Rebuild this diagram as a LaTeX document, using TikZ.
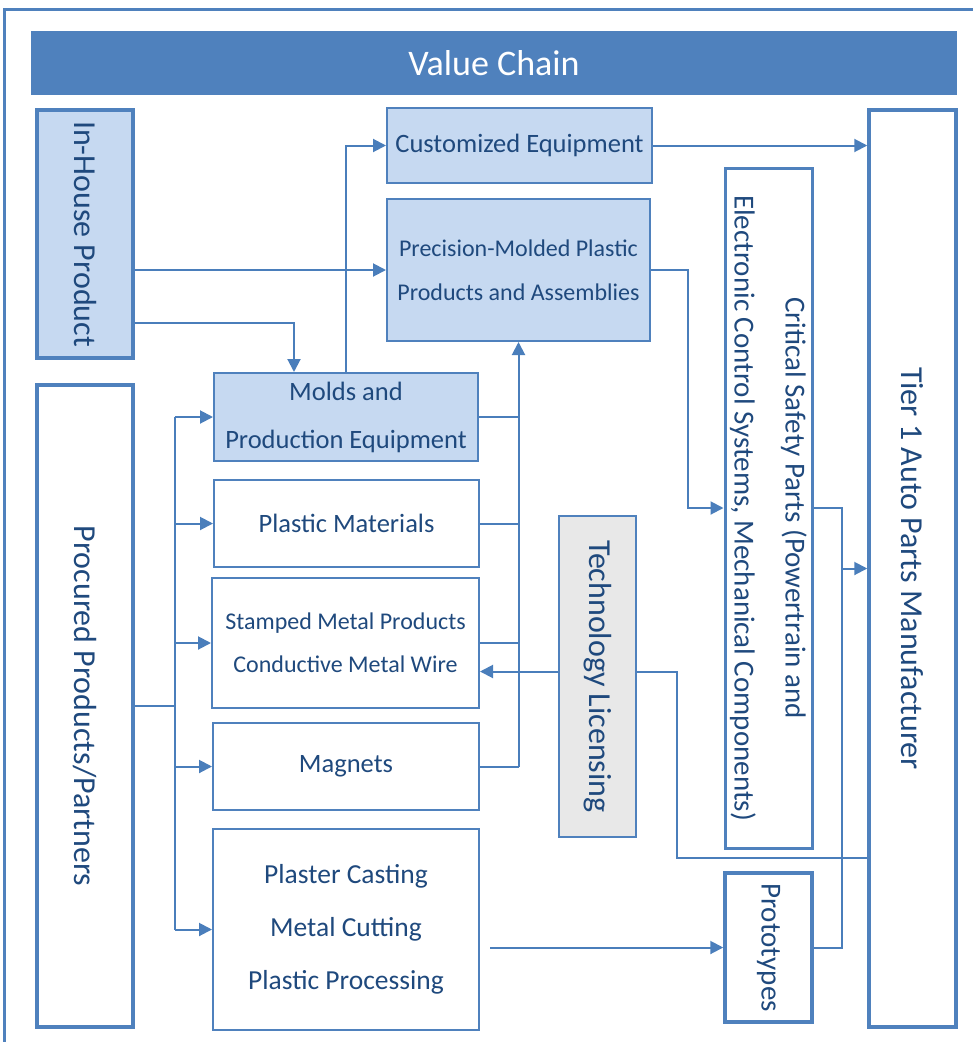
\documentclass[tikz,border=0pt]{standalone}
\usepackage{fontspec}
\setmainfont{Carlito}
\usetikzlibrary{arrows.meta, positioning}

\definecolor{vcblue}{HTML}{4F81BD}
\definecolor{vcline}{HTML}{4A7EBB}
\definecolor{vcfill}{HTML}{C6D9F1}
\definecolor{vcgray}{HTML}{E8E8E8}
\definecolor{vctext}{HTML}{1F497D}

\begin{document}
\begin{tikzpicture}
    [
        x=1pt, y=-1pt,
        block/.style = {
                draw=vcblue,
                rectangle,
                line width=2pt,
                inner sep=0pt,
                text=vctext,
                align=center,
                font=\fontsize{26.5}{32}\selectfont
            },
        heavy/.style = {block, line width=3.5pt},
        shaded/.style = {fill=vcfill},
        vtext/.style = {
                rotate=-90,
                text=vctext,
                align=center,
                font=\fontsize{32}{38}\selectfont
            },
        link/.style = {draw=vcline, line width=2pt},
        arr/.style = {link, -{Triangle[length=13pt, width=13pt]}},
    ]

    \useasboundingbox (0,0) rectangle (973,1042);
    \draw[vcblue, line width=3pt] (4,9) rectangle (1000,1080);

    \node[fill=vcblue, minimum width=926pt, minimum height=64pt, text=white,
        font=\fontsize{36}{40}\selectfont] (header) at (494,63) {Value Chain};

    % left column
    \node[heavy, shaded, minimum width=96pt, minimum height=248pt] (inhouse) at (85,234) {};
    \node[vtext] at (inhouse) {In-House Product};
    \node[heavy, minimum width=96pt, minimum height=642pt] (procured) at (85,706) {};
    \node[vtext] at (procured) {Procured Products/Partners};

    % products
    \node[block, shaded, minimum width=265pt, minimum height=75pt] (custom) at (519.5,145.5) {Customized Equipment};
    \node[block, shaded, minimum width=263pt, minimum height=142pt,
        font=\fontsize{24}{44}\selectfont] (precision) at (518.5,270) {Precision-Molded Plastic\\Products and Assemblies};
    \node[block, shaded, minimum width=264pt, minimum height=88pt,
        font=\fontsize{26.5}{48}\selectfont] (molds) at (346,417) {Molds and\\Production Equipment};
    \node[block, minimum width=265pt, minimum height=87pt] (plastic) at (346.5,523.5) {Plastic Materials};
    \node[block, minimum width=267pt, minimum height=130pt,
        font=\fontsize{24}{43}\selectfont] (stamped) at (345.5,643) {Stamped Metal Products\\Conductive Metal Wire};
    \node[block, minimum width=266pt, minimum height=87pt] (magnets) at (346,766.5) {Magnets};
    \node[block, minimum width=266pt, minimum height=201pt,
        font=\fontsize{27.5}{53}\selectfont] (plaster) at (346,929.5) {Plaster Casting\\Metal Cutting\\Plastic Processing};

    % right side
    \node[block, fill=vcgray, minimum width=77pt, minimum height=321pt] (techlic) at (597.5,676.5) {};
    \node[vtext] at (techlic) {Technology Licensing};
    \node[heavy, line width=3pt, minimum width=87pt, minimum height=680pt] (critical) at (768.5,508) {};
    \node[vtext, font=\fontsize{29}{51}\selectfont] at (critical) {Critical Safety Parts (Powertrain and\\Electronic Control Systems, Mechanical Components)};
    \node[heavy, minimum width=87pt, minimum height=149pt] (protos) at (768.5,947.5) {};
    \node[vtext, font=\fontsize{29}{35}\selectfont] at (protos) {Prototypes};
    \node[heavy, minimum width=87pt, minimum height=917pt] (tier1) at (912.5,568.5) {};
    \node[vtext] at (tier1) {Tier 1 Auto Parts Manufacturer};

    % in-house flows
    \draw[arr] (inhouse.east |- precision.west) -- (precision.west);
    \draw[arr] ([yshift=-89pt]inhouse.east) -| ([xshift=-52pt]molds.north);
    \draw[arr] (molds.north) |- (custom.west);
    \draw[arr] (custom.east) -- (custom.east -| tier1.west);
    \draw[arr] (precision.east) -- ++(37,0) |- (critical.west);

    % procured flows
    \draw[link] (procured.east) -- ++(40,0) coordinate (split);
    \draw[link] (split |- molds.west) -- (split |- plaster.west);
    \foreach \n in {molds, plastic, stamped, magnets, plaster}
        \draw[arr] (split |- \n.west) -- (\n.west);

    % inputs to precision products
    \foreach \n in {molds, plastic, stamped, magnets}
        \draw[link] (\n.east) -- (\n.east -| precision.south);
    \draw[arr] (magnets.east -| precision.south) -- (precision.south);

    % licensing
    \draw[arr] ([yshift=5pt]techlic.west) -- ([yshift=5pt]techlic.west -| stamped.east);
    \draw[link] ([yshift=5pt]techlic.east) -- ++(40,0) |- ([yshift=-289.5pt]tier1.west);

    % to tier 1
    \draw[arr] (critical.east) -- ++(28,0) |- (tier1.west);
    \draw[link] (protos.east) -| ([xshift=28pt]critical.east);
    \draw[arr, shorten <=10pt] (plaster.east |- protos.west) -- (protos.west);

\end{tikzpicture}
\end{document}
